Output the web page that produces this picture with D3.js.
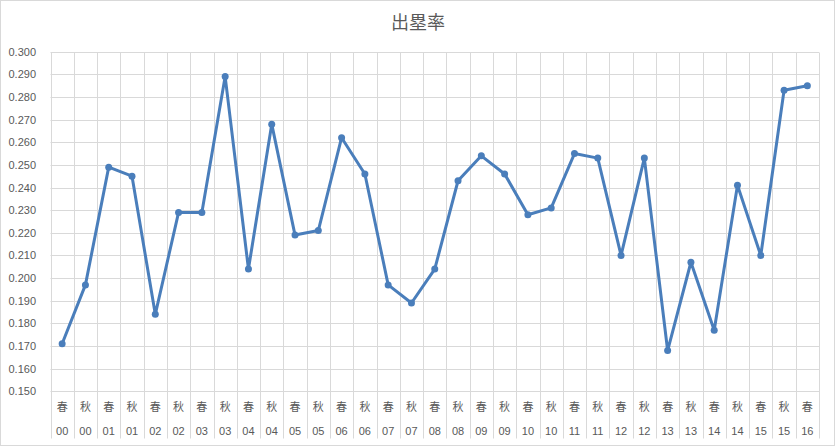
<!DOCTYPE html>
<html><head><meta charset="utf-8">
<script src="https://cdn.jsdelivr.net/npm/d3@7"></script>
<style>html,body{margin:0;padding:0;background:#fff;}svg{display:block;}</style>
</head><body>
<script>
const title = "出塁率";
const seasons = ["春","秋","春","秋","春","秋","春","秋","春","秋","春","秋","春","秋","春","秋","春","秋","春","秋","春","秋","春","秋","春","秋","春","秋","春","秋","春","秋","春"];
const years = ["00","00","01","01","02","02","03","03","04","04","05","05","06","06","07","07","08","08","09","09","10","10","11","11","12","12","13","13","14","14","15","15","16"];
const values = [0.171,0.197,0.249,0.245,0.184,0.229,0.229,0.289,0.204,0.268,0.219,0.221,0.262,0.246,0.197,0.189,0.204,0.243,0.254,0.246,0.228,0.231,0.255,0.253,0.210,0.253,0.168,0.207,0.177,0.241,0.210,0.283,0.285];
const yTicks = [0.150,0.160,0.170,0.180,0.190,0.200,0.210,0.220,0.230,0.240,0.250,0.260,0.270,0.280,0.290,0.300];

(function(){
const W = 835, H = 446;
const pLeft = 50.5, pRight = 819, pTop = 51.7, pBottom = 391.3;
const svg = d3.select("body").append("svg").attr("width", W).attr("height", H);
svg.append("rect").attr("x",0.5).attr("y",0.5).attr("width",W-1).attr("height",H-1)
  .attr("fill","#fff").attr("stroke","#d9d9d9");

const idx = d3.range(values.length);
const x = d3.scaleBand().domain(idx).range([pLeft, pRight]);
const y = d3.scaleLinear().domain([0.15, 0.30]).range([pBottom, pTop]);
const grid = "#d9d9d9", txt = "#595959";
const font = "'Liberation Sans', Arial, sans-serif";

// horizontal gridlines
svg.append("g").selectAll("line").data(yTicks).join("line")
  .attr("x1", pLeft).attr("x2", pRight)
  .attr("y1", d => Math.round(y(d)) + 0.5).attr("y2", d => Math.round(y(d)) + 0.5)
  .attr("stroke", grid).attr("stroke-width", 1);

// vertical gridlines (category boundaries) extending into the label area
const bounds = idx.map(i => x(i)).concat([pRight]);
svg.append("g").selectAll("line").data(bounds).join("line")
  .attr("x1", d => Math.round(d) + 0.5).attr("x2", d => Math.round(d) + 0.5)
  .attr("y1", Math.round(pTop) + 0.5).attr("y2", 438.5)
  .attr("stroke", grid).attr("stroke-width", 1);

// y axis labels
const yAxis = d3.axisLeft(y).tickValues(yTicks).tickFormat(d3.format(".3f")).tickSize(0).tickPadding(0);
const ga = svg.append("g").attr("transform", "translate(36,0)").call(yAxis);
ga.select(".domain").remove();
ga.selectAll("text").attr("fill", txt).attr("font-size", 11).attr("font-family", font);

// x labels, two rows
const xg = svg.append("g");
xg.selectAll("text.s").data(idx).join("text").attr("class","s")
  .attr("x", i => x(i) + x.bandwidth()/2).attr("y", 407).attr("dy","0.35em")
  .attr("text-anchor","middle").attr("fill", txt).attr("font-size", 11)
  .attr("font-family", "'Noto Sans CJK JP', sans-serif").text(i => seasons[i]);
xg.selectAll("text.yr").data(idx).join("text").attr("class","yr")
  .attr("x", i => x(i) + x.bandwidth()/2).attr("y", 431).attr("dy","0.35em")
  .attr("text-anchor","middle").attr("fill", txt).attr("font-size", 11)
  .attr("font-family", font).text(i => years[i]);

// line
const line = d3.line().x(i => x(i) + x.bandwidth()/2).y(i => y(values[i]));
svg.append("path").datum(idx).attr("d", line).attr("fill","none")
  .attr("stroke","#4a7ebb").attr("stroke-width", 3).attr("stroke-linejoin","round");
svg.append("g").selectAll("circle").data(idx).join("circle")
  .attr("cx", i => x(i) + x.bandwidth()/2).attr("cy", i => y(values[i])).attr("r", 3.5)
  .attr("fill","#4a7ebb");

// title
svg.append("text").attr("x", 418).attr("y", 23).attr("dy","0.35em").attr("text-anchor","middle")
  .attr("fill", txt).attr("font-size", 18).attr("font-family", "'Noto Sans CJK JP', sans-serif")
  .text(title);
})();
</script>
</body></html>
